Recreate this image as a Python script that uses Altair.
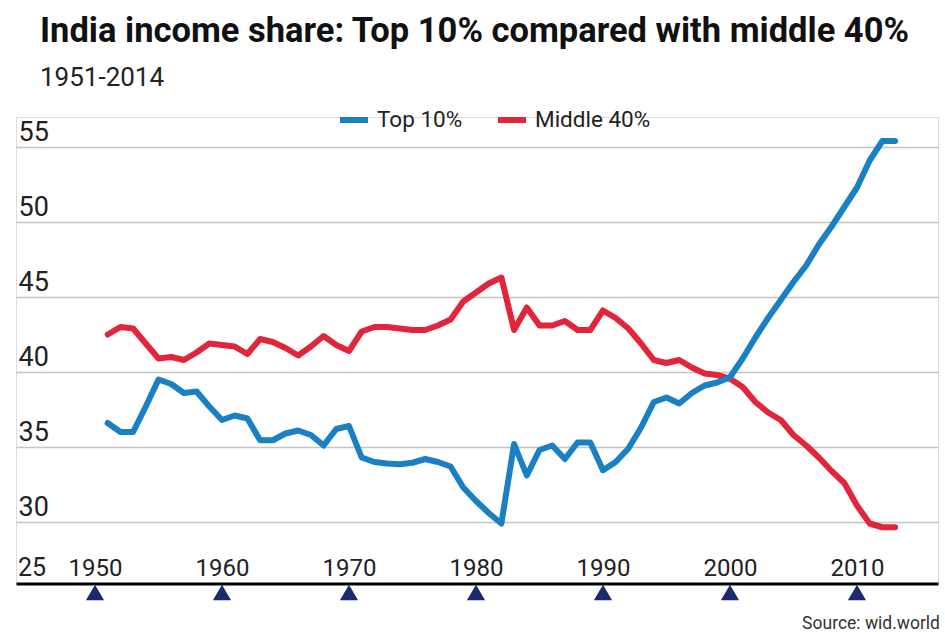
import altair as alt
import pandas as pd

# Income share (%) of India's top 10% and middle 40%, by year
years = list(range(1951, 2014))
top10 = [
    36.6, 36.0, 36.0, 37.7, 39.5, 39.2, 38.6, 38.7, 37.7, 36.8,
    37.1, 36.9, 35.45, 35.45, 35.9, 36.1, 35.8, 35.1, 36.2, 36.4,
    34.3, 34.0, 33.9, 33.85, 33.95, 34.2, 34.0, 33.7, 32.3, 31.4,
    30.6, 29.9, 35.2, 33.1, 34.8, 35.1, 34.2, 35.3, 35.3, 33.45,
    34.0, 34.9, 36.3, 38.0, 38.3, 37.9, 38.6, 39.1, 39.3, 39.65,
    40.9, 42.3, 43.6, 44.8, 46.0, 47.1, 48.5, 49.7, 51.0, 52.3,
    54.1, 55.4, 55.4,
]
middle40 = [
    42.5, 43.0, 42.9, 41.9, 40.9, 41.0, 40.8, 41.3, 41.9, 41.8,
    41.7, 41.2, 42.2, 42.0, 41.6, 41.1, 41.7, 42.4, 41.8, 41.4,
    42.7, 43.0, 43.0, 42.9, 42.8, 42.8, 43.1, 43.5, 44.7, 45.3,
    45.9, 46.3, 42.8, 44.3, 43.1, 43.1, 43.4, 42.8, 42.8, 44.1,
    43.6, 42.9, 41.9, 40.8, 40.6, 40.8, 40.3, 39.9, 39.8, 39.55,
    39.0, 38.0, 37.3, 36.8, 35.8, 35.1, 34.3, 33.4, 32.6, 31.1,
    29.9, 29.65, 29.65,
]
series_names = ["Top 10%", "Middle 40%"]
series_colors = ["#1a80c4", "#e1263b"]
x_ticks = [1950, 1960, 1970, 1980, 1990, 2000, 2010]
y_ticks = [30, 35, 40, 45, 50, 55]

FONT = "Roboto"
W, H = 922, 466.5

top_df = pd.DataFrame({"year": years, "share": top10, "series": series_names[0]})
mid_df = pd.DataFrame({"year": years, "share": middle40, "series": series_names[1]})
tick_df = pd.DataFrame({"year": x_ticks})

x_scale = alt.Scale(domain=[1943.78, 2016.38], nice=False, zero=False)
y_scale = alt.Scale(domain=[25.9, 57], nice=False, zero=False)
color_scale = alt.Scale(domain=series_names, range=series_colors)

x_axis = alt.Axis(
    values=x_ticks, format="d", title=None, grid=False,
    domain=True, domainColor="#000000", domainWidth=3,
    ticks=False, tickSize=0, labelPadding=-8, labelBaseline="alphabetic",
    labelFont=FONT, labelFontSize=24, labelColor="#222222",
)
y_axis = alt.Axis(
    values=y_ticks, title=None, grid=True, gridColor="#c4c4c4", gridWidth=1.5,
    domain=False, ticks=False, tickSize=0, labelAlign="left",
    labelBaseline="alphabetic", labelPadding=-2, labelOffset=-7,
    labelFont=FONT, labelFontSize=27, labelColor="#222222",
)

legend = alt.Legend(
    title=None, orient="none", legendX=321, legendY=-14, direction="horizontal",
    symbolType="stroke", symbolStrokeWidth=6, symbolSize=784,
    labelFont=FONT, labelFontSize=22.5, labelColor="#222222",
    columnPadding=23, labelOffset=6, padding=0,
)

mid_line = alt.Chart(mid_df).mark_line(
    strokeWidth=6, strokeCap="round", strokeJoin="round"
).encode(
    x=alt.X("year:Q", scale=x_scale, axis=x_axis),
    y=alt.Y("share:Q", scale=y_scale, axis=y_axis),
    color=alt.Color("series:N", scale=color_scale, legend=legend),
)

top_line = alt.Chart(top_df).mark_line(
    strokeWidth=6, strokeCap="round", strokeJoin="round"
).encode(
    x=alt.X("year:Q", scale=x_scale),
    y=alt.Y("share:Q", scale=y_scale),
    color=alt.Color("series:N", scale=color_scale, legend=legend),
)

# Navy markers under each decade label
markers = alt.Chart(tick_df).mark_point(
    shape="triangle-up", filled=True, size=330, color="#1b2a6b", opacity=1
).encode(
    x=alt.X("year:Q", scale=x_scale),
    y=alt.value(H + 9),
)

# Bottom label of the value axis, sitting on the baseline row
low_label = alt.Chart(pd.DataFrame({"v": [25]})).mark_text(
    align="left", baseline="alphabetic", dx=2, dy=-8,
    font=FONT, fontSize=25, color="#222222",
).encode(
    x=alt.value(0),
    y=alt.value(H),
    text=alt.Text("v:Q"),
)

source = alt.Chart(pd.DataFrame({"t": ["Source: wid.world"]})).mark_text(
    align="right", baseline="alphabetic", font=FONT, fontSize=17.5, color="#333333",
).encode(
    x=alt.value(W + 2),
    y=alt.value(H + 45),
    text="t:N",
)

chart = alt.layer(mid_line, top_line, markers, low_label, source).properties(
    width=W,
    height=H,
    autosize=alt.AutoSizeParams(type="none"),
    padding={"left": 16, "top": 117, "right": 7, "bottom": 50},
    title=alt.TitleParams(
        text="India income share: Top 10% compared with middle 40%",
        subtitle="1951-2014",
        anchor="start", frame="group", dx=24, offset=11,
        font=FONT, fontSize=34.5, fontWeight="bold", color="#111111",
        subtitleFont=FONT, subtitleFontSize=26, subtitleColor="#222222",
        subtitlePadding=16,
    ),
).configure_view(stroke=None).configure(background="#ffffff")

chart.save("out.html", embed_options={"renderer": "svg", "actions": False})
